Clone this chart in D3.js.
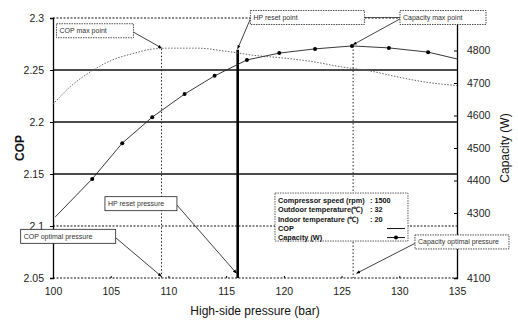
<!DOCTYPE html>
<html>
<head>
<meta charset="utf-8">
<script src="https://cdn.jsdelivr.net/npm/d3@7"></script>
<style>
  body { margin: 0; background: #fff; }
  text { font-family: "Liberation Sans", Arial, sans-serif; }
</style>
</head>
<body>
<div id="chart"></div>
<script>
// data
var pressureTicks = [100, 105, 110, 115, 120, 125, 130, 135];
var copTicks = [2.05, 2.1, 2.15, 2.2, 2.25, 2.3];
var capTicks = [4100, 4200, 4300, 4400, 4500, 4600, 4700, 4800, 4900];
var capHiddenLabels = [4200, 4900];   // covered by the note boxes in the original

var copP   = [100, 101.5, 103.5, 105, 107, 108.5, 110, 112.5, 115, 117.5, 120, 122.5, 125, 127.5, 130, 132.5, 135];
var copVal = [2.217, 2.234, 2.25, 2.259, 2.266, 2.27, 2.271, 2.271, 2.268, 2.264, 2.2615, 2.258, 2.253, 2.249, 2.243, 2.238, 2.235];

var capP   = [100.2, 103.4, 106, 108.6, 111.4, 114, 116.8, 119.6, 122.7, 125.9, 129.1, 132.5, 135];
var capVal = [4288, 4405, 4515, 4595, 4666, 4722, 4771, 4792, 4805, 4814, 4808, 4795, 4774];

var copMaxP = 109.4, hpResetP = 116, capMaxP = 126;

var legendRows = ["Compressor speed (rpm)", "Outdoor temperature(\u2103)", "Indoor temperature  (\u2103)", "COP", "Capacity (W)"];
var legendVals = ["1500", "32", "20", "", ""];

var W = 518, H = 320;
var margin = {top: 18, right: 61, bottom: 42, left: 53};

var svg = d3.select("#chart").append("svg")
    .attr("width", W).attr("height", H);

var x = d3.scaleLinear().domain([100, 135]).range([margin.left, W - margin.right]);
var yL = d3.scaleLinear().domain([2.05, 2.3]).range([H - margin.bottom, margin.top]);
var yR = d3.scaleLinear().domain([4100, 4900]).range([H - margin.bottom, margin.top]);

// horizontal grid lines
svg.selectAll("line.grid")
  .data(copTicks)
  .enter().append("line")
    .attr("class", "grid")
    .attr("x1", x(100)).attr("x2", x(135))
    .attr("y1", function(d) { return yL(d); })
    .attr("y2", function(d) { return yL(d); })
    .attr("stroke", "#111")
    .attr("stroke-width", function(d) { return (d == 2.3 || d == 2.1 || d == 2.05) ? 1 : 1.3; })
    .attr("stroke-dasharray", function(d) { return (d == 2.3 || d == 2.1 || d == 2.05) ? "2,1.5" : null; });

// left axis
var leftAxis = svg.append("g")
    .attr("transform", "translate(" + x(100) + ",0)")
    .call(d3.axisLeft(yL).tickValues(copTicks).tickSize(3).tickPadding(6)
          .tickFormat(function(d) { return String(+d.toFixed(2)); }));
leftAxis.select(".domain").attr("stroke", "#000").attr("stroke-width", 1.3);
leftAxis.selectAll("text").style("font-size", "10.5px").attr("fill", "#222");

// right axis
var rightAxis = svg.append("g")
    .attr("transform", "translate(" + x(135) + ",0)")
    .call(d3.axisRight(yR).tickValues(capTicks).tickSize(-3).tickPadding(10)
          .tickFormat(function(d) { return capHiddenLabels.indexOf(d) >= 0 ? "" : d3.format("d")(d); }));
rightAxis.select(".domain").attr("stroke", "#000").attr("stroke-width", 1.3);
rightAxis.selectAll("text").style("font-size", "10.5px").attr("fill", "#222");

// bottom axis (labels only, small inward ticks)
var bottomAxis = svg.append("g")
    .attr("transform", "translate(0," + yL(2.05) + ")")
    .call(d3.axisBottom(x).tickValues(pressureTicks).tickSize(-2).tickPadding(10));
bottomAxis.select(".domain").remove();
bottomAxis.selectAll("text").style("font-size", "10.5px").attr("fill", "#222");

// vertical marker lines
svg.append("line")
    .attr("x1", x(copMaxP)).attr("x2", x(copMaxP))
    .attr("y1", yL(2.2705)).attr("y2", yL(2.05))
    .attr("stroke", "#222").attr("stroke-width", 1).attr("stroke-dasharray", "1.5,2");
svg.append("line")
    .attr("x1", x(capMaxP)).attr("x2", x(capMaxP))
    .attr("y1", yR(4814)).attr("y2", yL(2.05))
    .attr("stroke", "#222").attr("stroke-width", 1).attr("stroke-dasharray", "1.5,2");
svg.append("line")
    .attr("x1", x(hpResetP)).attr("x2", x(hpResetP))
    .attr("y1", yL(2.2695)).attr("y2", yL(2.05))
    .attr("stroke", "#000").attr("stroke-width", 2.6);

// COP curve
var copData = copP.map(function(p, i) { return [p, copVal[i]]; });
svg.append("path")
    .datum(copData)
    .attr("fill", "none")
    .attr("stroke", "#666")
    .attr("stroke-width", 1)
    .attr("stroke-dasharray", "1.5,1.5")
    .attr("d", d3.line().curve(d3.curveMonotoneX)
        .x(function(d) { return x(d[0]); })
        .y(function(d) { return yL(d[1]); }));

// capacity curve
var capData = capP.map(function(p, i) { return [p, capVal[i]]; });
svg.append("path")
    .datum(capData)
    .attr("fill", "none")
    .attr("stroke", "#222")
    .attr("stroke-width", 0.9)
    .attr("d", d3.line()
        .x(function(d) { return x(d[0]); })
        .y(function(d) { return yR(d[1]); }));
svg.selectAll("circle.cap")
  .data(capData.slice(1, capData.length - 1))
  .enter().append("circle")
    .attr("class", "cap")
    .attr("cx", function(d) { return x(d[0]); })
    .attr("cy", function(d) { return yR(d[1]); })
    .attr("r", 2)
    .attr("fill", "#000");

// arrowhead
svg.append("defs").append("marker")
    .attr("id", "arr").attr("viewBox", "0 0 10 10")
    .attr("refX", 9).attr("refY", 5)
    .attr("markerWidth", 5).attr("markerHeight", 5)
    .attr("orient", "auto")
  .append("path").attr("d", "M0,1L10,5L0,9z").attr("fill", "#000");

// annotation boxes: bx, by in pressure / COP units, tip in pressure / COP units
var notes = [
  {label: "COP max point",             bx: 100.3, by: 2.2945, w: 77, tip: [copMaxP, 2.2712], from: "right"},
  {label: "HP reset point",            bx: 117.1, by: 2.3072, w: 114, tip: [hpResetP, 2.2705], from: "left"},
  {label: "Capacity max point",        bx: 130.06, by: 2.3072, w: 86, tip: [capMaxP, yL.invert(yR(4818))], from: "left"},
  {label: "HP reset pressure",         bx: 104.5, by: 2.1282, w: 72, tip: [hpResetP - 0.1, 2.0545], from: "right"},
  {label: "COP optimal pressure",      bx: 97.2, by: 2.0968, w: 95, tip: [copMaxP, 2.0515], from: "right"},
  {label: "Capacity optimal pressure", bx: 131.36, by: 2.0914, w: 94, tip: [capMaxP + 0.3, 2.0545], from: "left"}
];

notes.forEach(function(n) {
  var bx = x(n.bx), by = yL(n.by), bh = 14;
  var sx = n.from == "right" ? bx + n.w : bx, sy = by + bh * 0.6;
  svg.append("line")
      .attr("x1", sx).attr("y1", sy)
      .attr("x2", x(n.tip[0])).attr("y2", yL(n.tip[1]))
      .attr("stroke", "#111").attr("stroke-width", 0.8)
      .attr("marker-end", "url(#arr)");
  svg.append("rect")
      .attr("x", bx).attr("y", by).attr("width", n.w).attr("height", bh)
      .attr("fill", "#fff").attr("stroke", "#222").attr("stroke-width", 0.8)
      .attr("stroke-dasharray", n.label == "HP reset pressure" || n.label == "COP optimal pressure" ? null : "1.5,1");
  svg.append("text")
      .attr("x", bx + 3).attr("y", by + bh / 2 + 2.5)
      .text(n.label)
      .style("font-size", "7px").attr("fill", "#333");
});

// line between the two top boxes
svg.append("line")
    .attr("x1", x(117.1) + 114).attr("x2", x(130.06))
    .attr("y1", yL(2.3072) + 7).attr("y2", yL(2.3072) + 7)
    .attr("stroke", "#333").attr("stroke-width", 0.8);

// legend
var lg = svg.append("g").attr("transform", "translate(" + x(119.23) + "," + yL(2.1317) + ")");
lg.append("rect")
    .attr("width", 133).attr("height", 48)
    .attr("fill", "#fff").attr("stroke", "#333").attr("stroke-width", 0.8)
    .attr("stroke-dasharray", "1.5,1");
legendRows.forEach(function(r, i) {
  var ty = 10 + i * 9.3;
  lg.append("text").attr("x", 3).attr("y", ty).text(r)
    .style("font-size", "7.3px").style("font-weight", "bold").attr("fill", "#111");
  if (legendVals[i]) {
    lg.append("text").attr("x", 95).attr("y", ty).text(":   " + legendVals[i])
      .style("font-size", "7.3px").style("font-weight", "bold").attr("fill", "#111");
  }
});
lg.append("line").attr("x1", 112).attr("x2", 130).attr("y1", 35.5).attr("y2", 35.5)
  .attr("stroke", "#111").attr("stroke-width", 1);
lg.append("line").attr("x1", 112).attr("x2", 130).attr("y1", 44.5).attr("y2", 44.5)
  .attr("stroke", "#111").attr("stroke-width", 1);
lg.append("circle").attr("cx", 121).attr("cy", 44.5).attr("r", 2).attr("fill", "#000");

// axis titles
svg.append("text")
    .attr("transform", "translate(24," + ((margin.top + H - margin.bottom) / 2) + ") rotate(-90)")
    .attr("text-anchor", "middle")
    .text("COP")
    .style("font-size", "12px").style("font-weight", "bold").attr("fill", "#111");
svg.append("text")
    .attr("transform", "translate(509," + ((margin.top + H - margin.bottom) / 2) + ") rotate(-90)")
    .attr("text-anchor", "middle")
    .text("Capacity (W)")
    .style("font-size", "12px").attr("fill", "#111");
svg.append("text")
    .attr("x", (x(100) + x(135)) / 2).attr("y", 315)
    .attr("text-anchor", "middle")
    .text("High-side pressure (bar)")
    .style("font-size", "12px").attr("fill", "#111");
</script>
</body>
</html>
